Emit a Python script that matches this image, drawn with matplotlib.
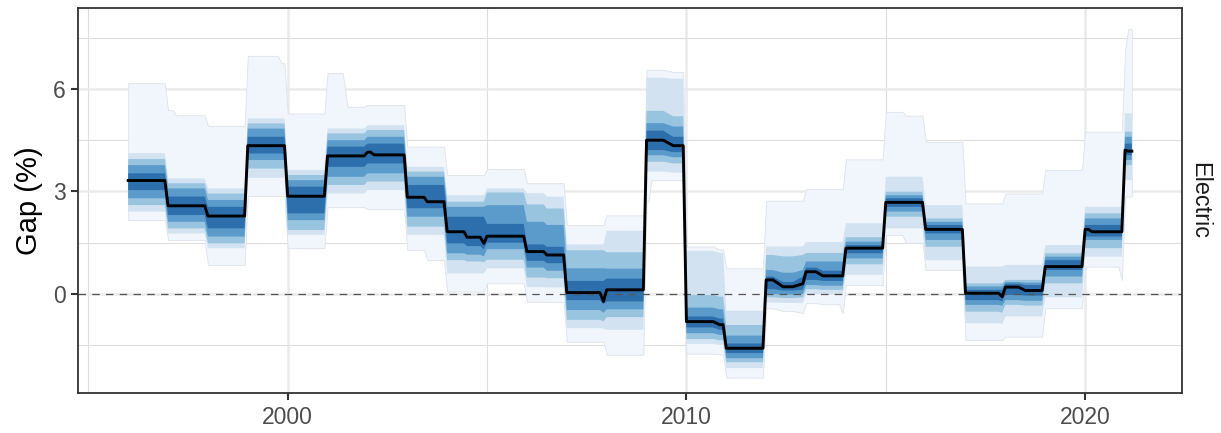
import matplotlib
matplotlib.use("Agg")
import matplotlib.pyplot as plt
import numpy as np
from matplotlib.ticker import MultipleLocator

plt.rcParams['font.family'] = ['Liberation Sans', 'DejaVu Sans']

# flat stretches of the monthly series: start / end (decimal year)
t_start = [1996.00, 1997.00, 1997.20, 1998.00, 1999.00, 1999.85, 2000.00, 2001.00,
           2001.50, 2002.00, 2002.17, 2003.00, 2003.50, 2004.00, 2004.50, 2004.92,
           2005.00, 2006.00, 2006.50, 2007.00, 2007.92, 2008.00, 2009.00, 2009.12,
           2009.67, 2010.00, 2010.83, 2011.00, 2012.00, 2012.42, 2012.92, 2013.00,
           2013.42, 2013.92, 2014.00, 2015.00, 2015.50, 2016.00, 2017.00, 2017.92,
           2018.00, 2018.50, 2019.00, 2020.00, 2020.17, 2020.92, 2021.00, 2021.08]
t_end = [1996.92, 1997.12, 1997.92, 1998.92, 1999.75, 1999.92, 2000.92, 2001.38,
         2001.92, 2002.08, 2002.92, 2003.42, 2003.92, 2004.42, 2004.83, 2004.92,
         2005.92, 2006.42, 2006.92, 2007.83, 2007.92, 2008.92, 2009.05, 2009.42,
         2009.92, 2010.67, 2010.92, 2011.92, 2012.17, 2012.67, 2012.92, 2013.25,
         2013.83, 2013.92, 2014.92, 2015.42, 2015.92, 2016.92, 2017.83, 2017.92,
         2018.33, 2018.92, 2019.92, 2020.08, 2020.83, 2020.92, 2021.00, 2021.17]

median = [3.32, 2.58, 2.58, 2.28, 4.34, 4.34, 2.86, 4.04, 4.04, 4.15, 4.07, 2.83,
          2.70, 1.82, 1.66, 1.48, 1.69, 1.24, 1.14, 0.04, -0.22, 0.12, 4.50, 4.50,
          4.34, -0.81, -0.90, -1.59, 0.41, 0.21, 0.30, 0.65, 0.53, 0.53, 1.34, 2.68,
          2.68, 1.89, 0.02, -0.08, 0.20, 0.10, 0.80, 1.89, 1.82, 1.82, 4.21, 4.18]

# quantile bands, 1 = widest ... 5 = narrowest
hi1 = [6.17, 5.38, 5.23, 4.92, 6.97, 6.75, 5.28, 6.47, 5.48, 5.53, 5.53, 4.31,
       4.31, 3.48, 3.48, 3.48, 3.66, 3.24, 3.24, 2.02, 2.02, 2.30, 6.56, 6.56,
       6.50, 1.39, 1.30, 0.75, 2.73, 2.73, 2.73, 3.07, 3.07, 3.07, 3.94, 5.33,
       5.22, 4.45, 2.65, 2.65, 2.94, 2.94, 3.63, 4.75, 4.75, 4.75, 7.13, 7.75]
lo1 = [2.16, 1.58, 1.58, 0.85, 2.87, 2.87, 1.34, 2.54, 2.54, 2.48, 2.48, 1.29,
       0.99, 0.07, 0.07, 0.07, 0.31, -0.23, -0.24, -1.40, -1.40, -1.78, 2.70, 3.33,
       3.33, -1.75, -1.77, -2.45, -0.42, -0.50, -0.56, -0.27, -0.30, -0.56, 0.26, 1.73,
       1.50, 0.70, -1.35, -1.35, -1.25, -1.25, -0.42, 0.80, 0.80, 0.41, 2.85, 2.85]
hi2 = [4.12, 3.38, 3.38, 3.09, 5.14, 5.14, 3.63, 4.84, 4.84, 4.94, 4.94, 3.72,
       3.72, 2.89, 2.89, 2.89, 3.09, 2.95, 2.85, 1.45, 1.45, 1.85, 6.33, 6.33,
       6.30, 1.26, 1.20, -0.49, 1.39, 1.39, 1.39, 1.52, 1.52, 1.52, 2.07, 3.43,
       3.43, 2.60, 0.80, 0.80, 0.85, 0.85, 1.43, 2.55, 2.55, 2.55, 5.29, 5.29]
lo2 = [2.41, 1.77, 1.77, 1.34, 3.40, 3.40, 1.73, 2.94, 2.94, 3.04, 3.04, 1.73,
       1.73, 0.60, 0.60, 0.60, 0.75, 0.20, 0.19, -1.00, -1.02, -1.05, 3.58, 3.58,
       3.55, -1.46, -1.49, -2.17, -0.25, -0.26, -0.26, -0.01, -0.02, -0.02, 0.56, 1.92,
       1.92, 0.99, -0.86, -0.88, -0.66, -0.66, -0.10, 1.09, 1.09, 1.09, 3.33, 3.33]
hi3 = [3.95, 3.24, 3.24, 2.94, 4.99, 4.99, 3.48, 4.70, 4.70, 4.80, 4.80, 3.58,
       3.58, 2.70, 2.70, 2.70, 2.97, 2.62, 2.50, 1.28, 1.28, 1.22, 5.36, 5.36,
       5.20, -0.03, -0.08, -0.91, 1.14, 1.10, 1.14, 1.20, 1.20, 1.20, 1.66, 2.99,
       2.99, 2.21, 0.31, 0.31, 0.41, 0.41, 1.19, 2.36, 2.36, 2.36, 4.75, 4.75]
lo3 = [2.60, 1.92, 1.92, 1.48, 3.67, 3.67, 1.87, 3.19, 3.19, 3.29, 3.29, 1.97,
       1.97, 0.99, 0.95, 0.93, 1.00, 0.48, 0.46, -0.76, -0.80, -0.68, 3.87, 3.87,
       3.82, -1.32, -1.36, -2.00, -0.10, -0.12, -0.10, 0.14, 0.12, 0.12, 0.87, 2.26,
       2.26, 1.38, -0.52, -0.55, -0.32, -0.34, 0.31, 1.34, 1.34, 1.34, 3.77, 3.77]
hi4 = [3.77, 3.09, 3.09, 2.75, 4.84, 4.84, 3.33, 4.50, 4.50, 4.60, 4.60, 3.43,
       3.43, 2.55, 2.55, 2.55, 2.60, 2.11, 2.02, 0.75, 0.75, 0.74, 5.00, 5.00,
       4.90, -0.40, -0.45, -1.22, 0.70, 0.62, 0.70, 0.95, 0.95, 0.95, 1.53, 2.89,
       2.89, 2.11, 0.22, 0.22, 0.35, 0.33, 1.09, 2.21, 2.21, 2.21, 4.60, 4.60]
lo4 = [2.80, 2.11, 2.11, 1.68, 3.92, 3.92, 2.16, 3.43, 3.43, 3.53, 3.53, 2.26,
       2.26, 1.19, 1.15, 1.10, 1.31, 0.77, 0.68, -0.47, -0.55, -0.45, 4.06, 4.06,
       4.00, -1.15, -1.20, -1.88, 0.00, -0.02, 0.00, 0.26, 0.24, 0.24, 1.04, 2.41,
       2.41, 1.58, -0.32, -0.35, -0.18, -0.20, 0.51, 1.58, 1.58, 1.58, 3.92, 3.92]
hi5 = [3.53, 2.85, 2.85, 2.55, 4.60, 4.60, 3.14, 4.31, 4.31, 4.40, 4.40, 3.19,
       3.19, 2.26, 2.26, 2.26, 2.05, 1.45, 1.38, 0.38, 0.38, 0.45, 4.78, 4.78,
       4.60, -0.66, -0.72, -1.45, 0.51, 0.35, 0.51, 0.77, 0.68, 0.68, 1.43, 2.80,
       2.80, 2.02, 0.12, 0.12, 0.30, 0.26, 0.99, 2.02, 2.02, 2.02, 4.40, 4.40]
lo5 = [3.04, 2.31, 2.31, 1.92, 4.11, 4.11, 2.36, 3.72, 3.72, 3.82, 3.82, 2.51,
       2.51, 1.48, 1.40, 1.30, 1.50, 0.97, 0.90, -0.18, -0.30, -0.22, 4.21, 4.21,
       4.15, -0.98, -1.05, -1.73, 0.14, 0.10, 0.12, 0.41, 0.38, 0.38, 1.19, 2.55,
       2.55, 1.77, -0.18, -0.22, -0.03, -0.05, 0.70, 1.68, 1.68, 1.68, 4.06, 4.06]

band_colors = ['#f1f5fc', '#d2e2f1', '#98c4e0', '#5b9bcb', '#2d6fad']


def steps(v):
    return np.repeat(np.asarray(v, dtype=float), 2)


x = np.column_stack([t_start, t_end]).ravel()

fig = plt.figure(figsize=(12.21, 4.33), dpi=100)
ax = fig.add_axes([78 / 1221, 40 / 433, 1104 / 1221, 385 / 433])

bands = [(lo1, hi1), (lo2, hi2), (lo3, hi3), (lo4, hi4), (lo5, hi5)]
for i, (lo, hi) in enumerate(bands):
    ax.fill_between(x, steps(lo), steps(hi), facecolor=band_colors[i],
                    edgecolor='#dde2ea' if i == 0 else 'none',
                    lw=0.6 if i == 0 else 0, zorder=1)

ax.axhline(0, color='#555555', lw=0.9, ls=(0, (6, 5)), zorder=2)
ax.plot(x, steps(median), color='black', lw=2.1, zorder=3,
        solid_joinstyle='round')

ax.margins(x=0.05)
ax.set_ylim(-2.9, 8.37)

ax.xaxis.set_major_locator(MultipleLocator(10))
ax.xaxis.set_minor_locator(MultipleLocator(5))
ax.yaxis.set_major_locator(MultipleLocator(3))
ax.yaxis.set_minor_locator(MultipleLocator(1.5))
ax.set_axisbelow(True)
ax.grid(which='major', color='#ebebeb', lw=1.8)
ax.grid(which='minor', color='#dedede', lw=0.8)

ax.tick_params(which='minor', length=0)
ax.tick_params(which='major', length=5, width=1.5, color='#333333',
               labelsize=16.5, labelcolor='#4d4d4d', pad=4)
for s in ax.spines.values():
    s.set_color('#333333')
    s.set_linewidth(1.3)

ax.set_ylabel('Gap (%)', fontsize=21, color='black')
ax.yaxis.set_label_coords(-0.032, 0.5)

ax.text(1.0 + 18 / 1104, 0.5, 'Electric', transform=ax.transAxes,
        rotation=-90, ha='center', va='center', fontsize=16.8, color='#1a1a1a')

fig.savefig('out.png', dpi=100)
